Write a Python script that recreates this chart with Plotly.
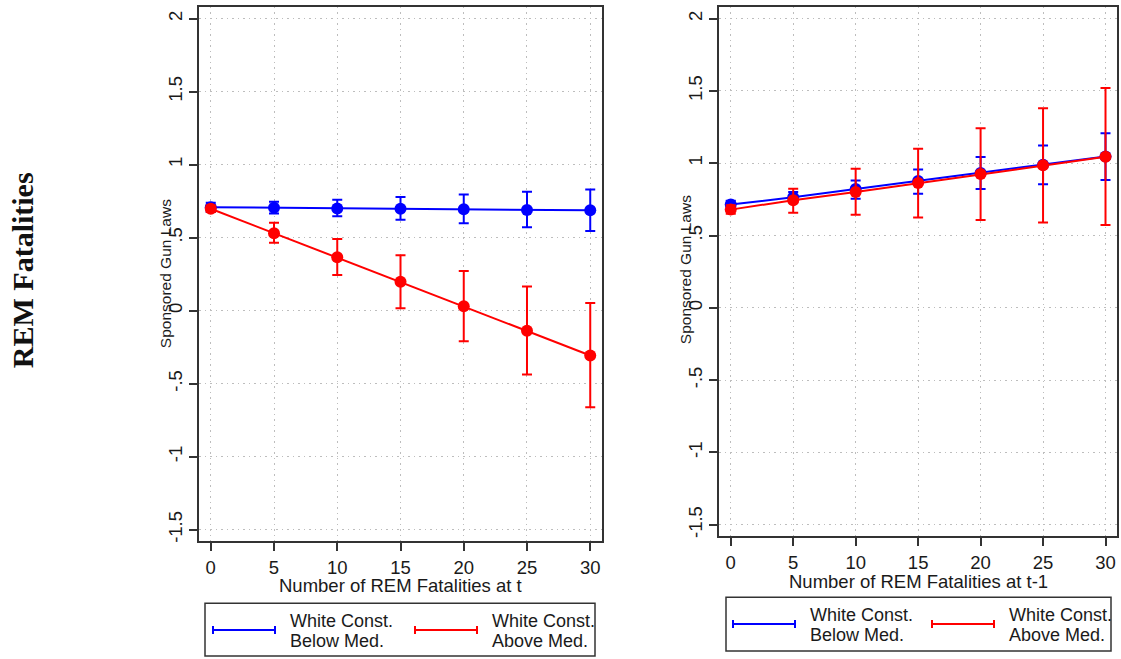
import plotly.graph_objects as go

W, H = 1121, 659

# ---------------- data ----------------
fatalities = [0, 5, 10, 15, 20, 25, 30]

# Panel 1: REM fatalities at t
below_t_est = [0.709, 0.705, 0.700, 0.698, 0.694, 0.689, 0.687]
below_t_lo = [0.675, 0.666, 0.646, 0.623, 0.598, 0.571, 0.546]
below_t_hi = [0.739, 0.746, 0.760, 0.778, 0.796, 0.814, 0.830]

above_t_est = [0.698, 0.530, 0.366, 0.198, 0.030, -0.138, -0.307]
above_t_lo = [0.675, 0.466, 0.244, 0.016, -0.209, -0.437, -0.662]
above_t_hi = [0.720, 0.603, 0.491, 0.380, 0.271, 0.166, 0.053]

# Panel 2: REM fatalities at t-1
below_t1_est = [0.714, 0.764, 0.822, 0.877, 0.932, 0.989, 1.047]
below_t1_lo = [0.690, 0.730, 0.755, 0.789, 0.822, 0.854, 0.884]
below_t1_hi = [0.740, 0.800, 0.881, 0.957, 1.042, 1.123, 1.207]

above_t1_est = [0.679, 0.744, 0.801, 0.863, 0.925, 0.985, 1.044]
above_t1_lo = [0.650, 0.658, 0.643, 0.624, 0.608, 0.590, 0.572]
above_t1_hi = [0.710, 0.824, 0.962, 1.099, 1.242, 1.380, 1.519]

y_tickvals = [-1.5, -1, -0.5, 0, 0.5, 1, 1.5, 2]
y_ticktext = ["-1.5", "-1", "-.5", "0", ".5", "1", "1.5", "2"]
x_tickvals = [0, 5, 10, 15, 20, 25, 30]

series_labels = [("White Const.", "Below Med."), ("White Const.", "Above Med.")]
x_titles = ["Number of REM Fatalities at t", "Number of REM Fatalities at t-1"]
y_title = "Sponsored Gun Laws"
row_label = "REM Fatalities"

BLUE = "#0000FF"
RED = "#FF0000"
FONT = "Liberation Sans, Arial, sans-serif"
TXT = "#1a1a1a"


def px(x):
    return x / W


def py(y):
    return 1 - y / H


fig = go.Figure()


def add_series(xa, ya, est, lo, hi, color):
    fig.add_trace(go.Scatter(
        x=fatalities, y=est, xaxis=xa, yaxis=ya,
        mode="lines+markers",
        line=dict(color=color, width=2),
        marker=dict(color=color, size=12),
        error_y=dict(
            type="data", symmetric=False,
            array=[h - e for h, e in zip(hi, est)],
            arrayminus=[e - l for e, l in zip(est, lo)],
            color=color, thickness=2, width=5,
        ),
        showlegend=False,
        cliponaxis=False,
    ))


add_series("x", "y", below_t_est, below_t_lo, below_t_hi, BLUE)
add_series("x", "y", above_t_est, above_t_lo, above_t_hi, RED)
add_series("x2", "y2", below_t1_est, below_t1_lo, below_t1_hi, BLUE)
add_series("x2", "y2", above_t1_est, above_t1_lo, above_t1_hi, RED)

axis_common = dict(
    showline=True, mirror=True, linecolor="#333333", linewidth=2,
    ticks="outside", ticklen=8, tickwidth=1.5, tickcolor="#333333",
    showgrid=True, gridcolor="#bdbdbd", gridwidth=1, griddash="1.5px,4px",
    zeroline=False,
    tickfont=dict(family=FONT, size=18.5, color=TXT),
)

panels = [
    dict(xd=[px(199), px(602)], yd=[py(543), py(7)]),
    dict(xd=[px(719), px(1117)], yd=[py(538), py(7)]),
]

fig.update_layout(
    xaxis=dict(domain=panels[0]["xd"], range=[-0.93, 30.93], tickvals=x_tickvals,
               anchor="y", **axis_common),
    yaxis=dict(domain=panels[0]["yd"], range=[-1.58, 2.08], tickvals=y_tickvals,
               ticktext=y_ticktext, tickangle=-90, anchor="x", **axis_common),
    xaxis2=dict(domain=panels[1]["xd"], range=[-0.94, 30.92], tickvals=x_tickvals,
                anchor="y2", **axis_common),
    yaxis2=dict(domain=panels[1]["yd"], range=[-1.58, 2.08], tickvals=y_tickvals,
                ticktext=y_ticktext, tickangle=-90, anchor="x2", **axis_common),
)

annotations = []
shapes = []

# Row label
annotations.append(dict(
    text=f"<b>{row_label}</b>", x=px(22), y=py(271), xref="paper", yref="paper",
    textangle=-90, showarrow=False, xanchor="center", yanchor="middle",
    font=dict(family="Liberation Serif, Times New Roman, serif", size=30, color="#111111"),
))

# Axis titles
xt_pos = [(400.5, 587), (918, 583)]
yt_pos = [(165, 275), (685, 271)]
for i in range(2):
    annotations.append(dict(
        text=x_titles[i], x=px(xt_pos[i][0]), y=py(xt_pos[i][1]),
        xref="paper", yref="paper", showarrow=False,
        xanchor="center", yanchor="middle",
        font=dict(family=FONT, size=18.5, color=TXT),
    ))
    annotations.append(dict(
        text=y_title, x=px(yt_pos[i][0]), y=py(yt_pos[i][1]),
        xref="paper", yref="paper", showarrow=False, textangle=-90,
        xanchor="center", yanchor="middle",
        font=dict(family=FONT, size=15.5, color=TXT),
    ))

# Legends (drawn to mimic Stata legend boxes)
legends = [
    dict(box=(205, 605, 595, 658), sym_y=632,
         syms=[(213, 275), (415, 477)], txt_x=[288, 490], l1=623, l2=643),
    dict(box=(726, 599, 1111, 653), sym_y=626,
         syms=[(733, 795), (932, 994)], txt_x=[808, 1007], l1=617, l2=637),
]
colors = [BLUE, RED]
for lg in legends:
    x0, y0, x1, y1 = lg["box"]
    shapes.append(dict(type="rect", xref="paper", yref="paper",
                       x0=px(x0), x1=px(x1), y0=py(y1), y1=py(y0),
                       line=dict(color="#333333", width=1.5), fillcolor="rgba(0,0,0,0)"))
    for j in range(2):
        sx0, sx1 = lg["syms"][j]
        sy = lg["sym_y"]
        c = colors[j]
        shapes.append(dict(type="line", xref="paper", yref="paper",
                           x0=px(sx0), x1=px(sx1), y0=py(sy), y1=py(sy),
                           line=dict(color=c, width=2)))
        for sx in (sx0, sx1):
            shapes.append(dict(type="line", xref="paper", yref="paper",
                               x0=px(sx), x1=px(sx), y0=py(sy - 4), y1=py(sy + 4),
                               line=dict(color=c, width=2)))
        for k, ly in enumerate([lg["l1"], lg["l2"]]):
            annotations.append(dict(
                text=series_labels[j][k], x=px(lg["txt_x"][j]), y=py(ly),
                xref="paper", yref="paper", showarrow=False,
                xanchor="left", yanchor="middle",
                font=dict(family=FONT, size=18, color=TXT),
            ))

fig.update_layout(
    width=W, height=H,
    margin=dict(l=0, r=0, t=0, b=0),
    paper_bgcolor="white", plot_bgcolor="white",
    annotations=annotations, shapes=shapes,
    showlegend=False,
)

fig.write_html(
    "out.html",
    config={"displayModeBar": False},
    post_script="document.body.style.margin='0';document.body.style.padding='0';"
                "document.documentElement.style.overflow='hidden';",
)
